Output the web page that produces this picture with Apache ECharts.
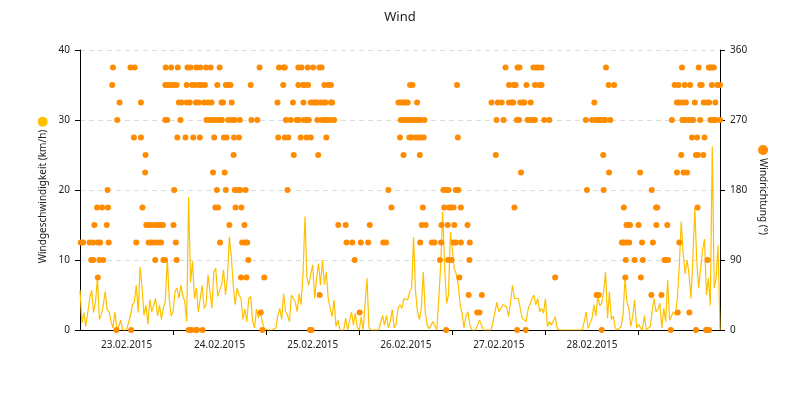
<!DOCTYPE html>
<html>
<head>
<meta charset="utf-8">
<script src="https://cdn.jsdelivr.net/npm/echarts@6/dist/echarts.min.js"></script>
<style>html,body{margin:0;padding:0;background:#fff}#c{width:800px;height:400px}</style>
</head>
<body>
<div id="c"></div>
<script>
// Time base: 23.02.2015 00:00, half-hourly wind speed samples (hours since start = index * stepHours)
const stepHours = 0.5;
const dateLabels = ['23.02.2015', '24.02.2015', '25.02.2015', '26.02.2015', '27.02.2015', '28.02.2015'];
const dayTickHours = [24, 48, 72, 96, 120, 144];
const dayLabelHours = [12, 36, 60, 84, 108, 132];

// Windgeschwindigkeit (km/h)
const speed = [
  5.7,1.0,2.5,0.5,0.5,4.5,5.7,2.5,4.0,7.5,
  1.5,2.2,3.6,5.5,2.9,2.6,1.2,0.3,2.6,0.2,
  0.5,1.4,0,0,0,0,2.1,3.6,4.0,6.4,
  2.5,9.0,6.0,2.1,3.6,0.8,4.3,2.6,3.5,4.5,
  2.0,3.6,1.5,3.2,4.1,10.2,4.5,2.0,2.6,5.5,
  6.0,4.5,6.4,4.8,4.1,1.2,19.0,6.8,9.8,4.5,
  6.0,2.6,4.5,6.4,3.1,3.6,7.9,5.5,3.1,8.3,
  8.8,4.8,5.7,6.4,8.6,5.0,7.4,13.3,10.5,6.4,
  3.6,6.0,5.0,4.5,1.5,3.0,1.2,4.5,4.8,1.2,
  0.3,3.0,1.7,2.6,1.2,0.2,0,0,0,0,
  0,0.3,2.1,3.1,1.5,5.2,2.6,2.1,1.2,5.0,
  5.2,4.0,2.6,5.2,3.6,8.0,16.2,7.5,6.4,8.0,
  9.3,4.5,7.4,9.5,6.4,10.0,6.5,8.3,4.5,3.1,
  1.9,4.3,0.5,1.4,0,0,0,1.7,0,0,
  2.6,0.7,2.4,0.3,0,1.9,0,0,7.4,0.3,
  0,0,0,0,0,0,2.1,0.7,2.1,0.3,
  1.2,2.9,0.3,0.8,3.1,3.6,3.1,4.5,4.3,4.3,
  5.5,6.0,13.3,5.5,2.6,1.5,3.1,8.3,2.6,0.7,
  0.2,0,1.2,1.4,0,0,9.3,16.9,9.0,3.8,
  5.0,14.0,11.5,8.8,8.0,6.6,3.6,2.4,0.3,2.0,
  2.6,0.7,0,0,0,0.7,1.4,0.7,0,0,
  0,0,0,0,2.6,4.0,2.6,2.4,3.6,3.8,
  3.3,1.9,4.0,6.4,4.5,4.3,4.5,4.3,1.7,1.9,
  1.2,2.9,3.1,4.5,5.0,3.6,4.5,2.6,3.1,2.4,
  4.5,0.5,1.2,0.7,0.7,1.9,0.3,0,0,0,
  0,0,0,0,0,0,0,0,0,0,
  1.2,2.6,0.2,0,1.7,3.6,2.0,4.8,3.5,3.8,
  5.5,8.3,1.7,5.5,1.5,2.0,0.3,0,0,0.5,
  2.1,7.4,4.0,3.1,0.5,2.0,4.3,0.3,0.8,0.3,
  0,2.1,0,0,0.5,2.6,4.5,2.6,3.0,3.8,
  0.3,3.1,1.2,7.1,1.4,1.2,2.6,2.1,4.5,9.0,
  15.5,11.0,8.0,10.0,8.0,4.5,10.0,17.4,10.0,6.0,
  6.0,11.5,13.0,5.0,7.4,3.5,26.2,6.0,7.4,12.1,
  0
];

// Windrichtung (°): 16 compass directions, hours (since start) at which each direction was reported
const dirLevels = [0, 22.5, 45, 67.5, 90, 112.5, 135, 157.5, 180, 202.5, 225, 247.5, 270, 292.5, 315, 337.5];
const dirHours = [
  [9.4,13.2,28.0,28.7,29.8,30.2,31.6,47.0,59.3,59.7,94.4,112.7,114.9,134.5,152.3,158.8,161.4,161.7,162.2],
  [46.6,72.1,102.4,103.0,154.1,157.1],
  [61.8,100.2,103.6,133.2,133.7,147.3,149.9],
  [4.6,41.5,42.9,47.5,97.8,122.5,140.6,144.6],
  [2.9,3.4,5.0,6.0,19.4,21.5,21.9,24.9,43.4,70.8,92.8,94.9,95.8,100.4,140.7,143.0,145.1,150.7,151.0,151.6,161.8],
  [0.2,0.8,2.5,3.4,4.6,5.2,7.4,14.5,17.7,18.4,19.1,20.0,20.9,24.7,36.1,41.8,42.5,43.1,68.7,70.2,72.4,74.3,78.2,78.9,87.7,90.7,91.4,93.1,96.3,96.9,98.2,100.5,139.7,140.2,140.9,141.6,144.9,147.7,154.5],
  [3.7,6.9,17.1,17.7,18.4,19.4,20.1,20.7,21.4,24.1,38.5,42.4,66.6,68.5,74.7,88.1,89.1,93.2,94.8,96.5,99.9,140.9,141.2,141.8,144.0,148.6,151.4],
  [4.4,5.7,7.2,16.1,34.9,35.6,40.1,41.6,80.3,88.4,93.9,95.1,95.6,96.3,98.2,112.0,140.2,148.5,148.8,159.2],
  [7.1,24.3,35.3,37.6,39.9,40.6,41.3,42.7,53.5,79.5,93.7,94.4,95.0,96.9,97.5,130.7,135.0,147.4],
  [16.8,34.3,37.3,113.7,136.4,144.4,153.9,155.6,156.5],
  [16.9,39.6,55.1,61.4,83.4,87.6,107.2,134.9,155.0,158.8,159.3,160.7],
  [13.9,15.7,25.1,27.2,29.2,30.9,34.6,37.1,37.8,39.7,41.0,51.1,52.8,53.7,56.9,58.4,59.5,63.5,82.5,84.9,85.5,86.5,87.2,87.9,88.6,97.4,157.8,159.1,161.0],
  [9.6,22.0,22.5,25.9,32.6,33.5,34.3,35.2,36.0,36.6,38.2,39.1,39.9,41.2,44.2,45.7,53.1,54.3,55.8,56.4,57.7,58.4,59.0,61.2,62.4,63.1,63.8,64.4,65.5,82.7,83.4,84.0,84.6,85.3,85.9,86.5,87.2,87.7,88.8,107.4,109.2,112.6,113.2,115.4,116.1,116.8,117.3,119.7,121.0,130.4,132.0,133.0,133.5,134.1,134.7,135.4,136.7,152.6,155.3,156.0,156.9,157.6,158.1,159.9,162.5,163.1,163.8,165.0],
  [10.2,15.7,25.5,26.2,27.5,28.3,29.9,30.6,32.0,33.0,33.9,36.5,36.9,39.1,50.9,54.9,57.6,59.5,60.2,60.7,61.2,62.1,62.8,63.3,64.7,65.0,82.1,82.7,83.4,84.0,84.5,86.9,106.1,107.7,108.7,110.6,111.3,111.7,113.5,114.1,114.6,116.2,132.6,153.9,154.5,155.3,156.2,158.5,160.8,161.6,162.2,163.8],
  [8.3,22.0,22.7,23.4,24.2,24.9,27.5,28.9,29.6,30.6,31.3,32.2,35.4,37.6,38.2,38.8,44.0,52.4,56.3,57.5,58.0,58.8,63.0,64.0,64.7,85.1,85.7,97.2,110.6,111.8,112.3,115.1,117.3,118.4,119.0,136.3,137.7,153.3,154.3,155.9,157.3,159.9,160.3,162.9,164.3,165.0],
  [8.5,13.0,14.1,22.1,23.5,25.2,27.7,28.5,30.0,31.0,32.5,33.7,36.0,46.3,51.3,52.5,52.8,56.3,57.1,58.7,60.1,61.7,62.3,109.7,112.8,113.3,116.9,117.6,118.2,119.0,135.6,155.2,159.5,162.1,162.5,162.9,163.4]
];

const speedColor = '#FFC000';
const dirColor = '#FF8C00';
const font = "'Noto Sans', 'DejaVu Sans', sans-serif";
const textColor = '#222';

const speedData = speed.map((v, i) => [i * stepHours, v]);
const dirData = [];
dirHours.forEach((hours, k) => hours.forEach(h => dirData.push([h, dirLevels[k]])));
const endHours = (speed.length - 1) * stepHours;

const chart = echarts.init(document.getElementById('c'), null, {renderer: 'canvas'});
chart.setOption({
  animation: false,
  backgroundColor: '#fff',
  title: {
    text: 'Wind', left: 'center', top: 6,
    textStyle: {fontFamily: font, fontSize: 13, fontWeight: 'normal', color: textColor}
  },
  grid: {left: 80, right: 80, top: 50, bottom: 70},
  xAxis: {
    type: 'value', min: 0, max: endHours,
    axisLine: {lineStyle: {color: '#000', width: 1}},
    axisTick: {show: true, length: 5, lineStyle: {color: '#000'}, customValues: dayTickHours},
    axisLabel: {
      customValues: dayLabelHours, margin: 10,
      fontFamily: font, fontSize: 10, color: textColor,
      formatter: v => dateLabels[Math.round((v - 12) / 24)] || ''
    },
    splitLine: {show: false}
  },
  yAxis: [
    {
      type: 'value', min: 0, max: 40, interval: 10, position: 'left',
      name: '{t|Windgeschwindigkeit (km/h)}{gap| }{dot| }',
      nameLocation: 'middle', nameRotate: 90, nameGap: 30,
      nameTextStyle: {
        fontFamily: font, fontSize: 10, color: textColor,
        rich: {
          t: {fontFamily: font, fontSize: 10, color: textColor},
          gap: {width: 3},
          dot: {width: 10, height: 10, borderRadius: 5, backgroundColor: speedColor}
        }
      },
      axisLine: {show: true, lineStyle: {color: '#000', width: 1}},
      axisTick: {show: true, length: 5, lineStyle: {color: '#000'}},
      axisLabel: {fontFamily: font, fontSize: 10, color: textColor, margin: 10},
      splitLine: {show: true, lineStyle: {color: '#dcdcdc', type: [5, 4], width: 1}}
    },
    {
      type: 'value', min: 0, max: 360, interval: 90, position: 'right',
      name: '{dot| }{gap| }{t|Windrichtung (°)}',
      nameLocation: 'middle', nameRotate: -90, nameGap: 36,
      nameTextStyle: {
        fontFamily: font, fontSize: 10, color: textColor,
        rich: {
          t: {fontFamily: font, fontSize: 10, color: textColor},
          gap: {width: 3},
          dot: {width: 10, height: 10, borderRadius: 5, backgroundColor: dirColor}
        }
      },
      axisLine: {show: true, lineStyle: {color: '#000', width: 1}},
      axisTick: {show: true, length: 5, lineStyle: {color: '#000'}},
      axisLabel: {fontFamily: font, fontSize: 10, color: textColor, margin: 10},
      splitLine: {show: false}
    }
  ],
  series: [
    {
      name: 'Windgeschwindigkeit', type: 'line', yAxisIndex: 0,
      data: speedData, showSymbol: false, symbol: 'none',
      lineStyle: {color: speedColor, width: 1.2},
      itemStyle: {color: speedColor}, z: 2
    },
    {
      name: 'Windrichtung', type: 'scatter', yAxisIndex: 1,
      data: dirData, symbolSize: 6,
      itemStyle: {color: dirColor, opacity: 1}, z: 3
    }
  ]
});
</script>
</body>
</html>
